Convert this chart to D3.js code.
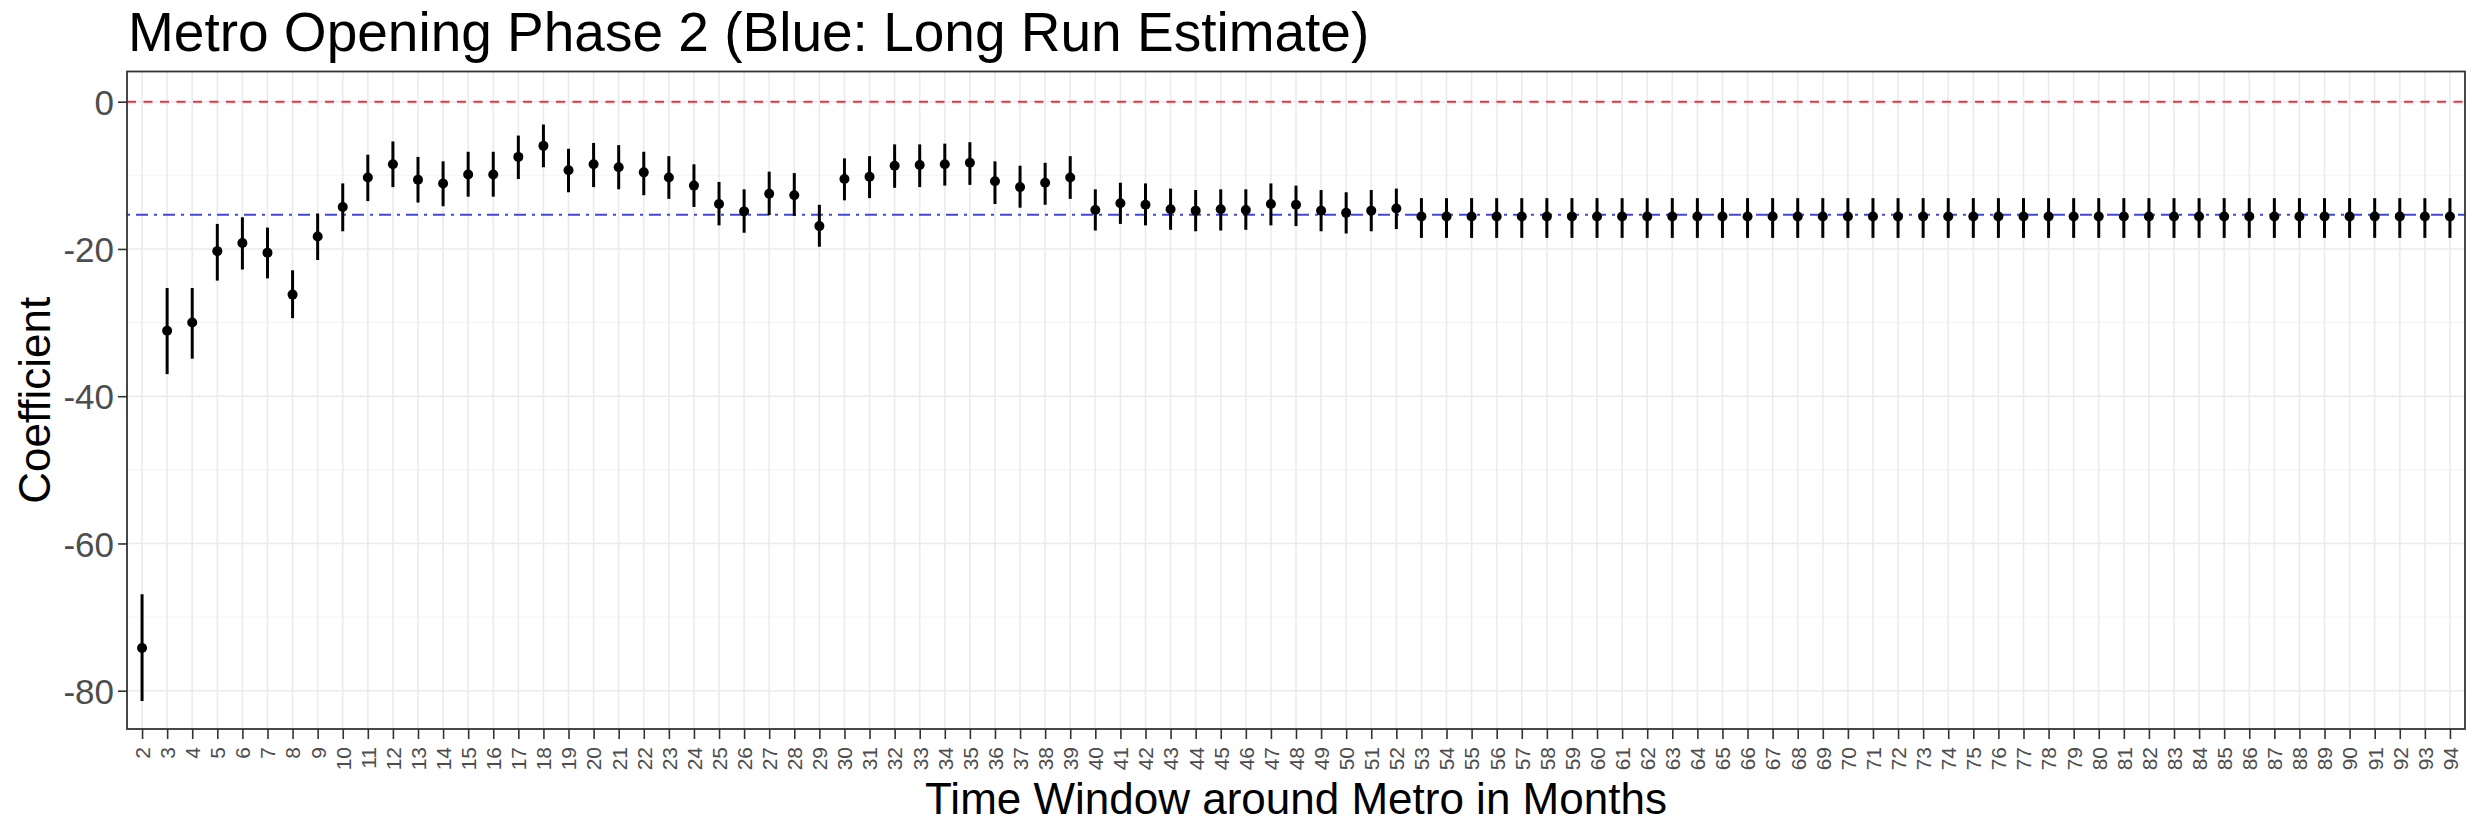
<!DOCTYPE html>
<html><head><meta charset="utf-8">
<script src="https://cdn.jsdelivr.net/npm/d3@7"></script>
<style>
body{margin:0;background:#fff}
svg{display:block}
text{font-family:"Liberation Sans",Arial,Helvetica,sans-serif}
</style>
</head><body>
<svg id="chart" width="2476" height="829"></svg>
<script>
// ---- data ----
const months = [2,3,4,5,6,7,8,9,10,11,12,13,14,15,16,17,18,19,20,21,22,23,24,25,26,27,28,29,30,31,32,33,34,35,36,37,38,39,40,41,42,43,44,45,46,47,48,49,50,51,52,53,54,55,56,57,58,59,60,61,62,63,64,65,66,67,68,69,70,71,72,73,74,75,76,77,78,79,80,81,82,83,84,85,86,87,88,89,90,91,92,93,94];
const coef = [-74.2,-31.1,-30.0,-20.3,-19.2,-20.5,-26.2,-18.3,-14.3,-10.3,-8.5,-10.6,-11.1,-9.9,-9.9,-7.5,-6.0,-9.3,-8.5,-8.9,-9.6,-10.3,-11.4,-13.9,-14.9,-12.5,-12.7,-16.9,-10.5,-10.2,-8.7,-8.6,-8.5,-8.3,-10.8,-11.6,-11.0,-10.3,-14.7,-13.8,-14.0,-14.6,-14.8,-14.6,-14.7,-13.9,-14.0,-14.8,-15.1,-14.8,-14.5,
  -15.6,-15.6,-15.6,-15.6,-15.6,-15.6,-15.6,-15.6,-15.6,-15.6,-15.6,-15.6,-15.6,-15.6,-15.6,-15.6,-15.6,-15.6,-15.6,-15.6,-15.6,-15.6,-15.6,-15.6,-15.6,-15.6,-15.6,-15.6,-15.6,-15.6,-15.6,-15.6,-15.6,-15.6,-15.6,-15.6,-15.6,-15.6,-15.6,-15.6,-15.6,-15.6];
const lower = [-81.4,-37.0,-34.9,-24.3,-22.8,-24.0,-29.4,-21.5,-17.6,-13.5,-11.6,-13.7,-14.2,-12.9,-12.9,-10.5,-8.9,-12.3,-11.6,-11.9,-12.7,-13.2,-14.3,-16.8,-17.8,-15.4,-15.5,-19.7,-13.4,-13.1,-11.7,-11.6,-11.4,-11.3,-13.9,-14.4,-14.0,-13.2,-17.5,-16.6,-16.8,-17.4,-17.6,-17.5,-17.4,-16.8,-16.9,-17.6,-17.9,-17.6,-17.3,
  -18.5,-18.5,-18.5,-18.5,-18.5,-18.5,-18.5,-18.5,-18.5,-18.5,-18.5,-18.5,-18.5,-18.5,-18.5,-18.5,-18.5,-18.5,-18.5,-18.5,-18.5,-18.5,-18.5,-18.5,-18.5,-18.5,-18.5,-18.5,-18.5,-18.5,-18.5,-18.5,-18.5,-18.5,-18.5,-18.5,-18.5,-18.5,-18.5,-18.5,-18.5,-18.5];
const upper = [-66.9,-25.3,-25.3,-16.6,-15.7,-17.1,-22.9,-15.2,-11.1,-7.2,-5.4,-7.5,-8.1,-6.8,-6.8,-4.6,-3.1,-6.4,-5.6,-5.9,-6.8,-7.4,-8.5,-10.9,-11.9,-9.5,-9.7,-14.0,-7.7,-7.4,-5.8,-5.8,-5.7,-5.5,-8.1,-8.7,-8.3,-7.4,-11.9,-11.0,-11.1,-11.8,-12.0,-11.9,-11.9,-11.1,-11.4,-12.0,-12.3,-12.0,-11.8,
  -13.1,-13.1,-13.1,-13.1,-13.1,-13.1,-13.1,-13.1,-13.1,-13.1,-13.1,-13.1,-13.1,-13.1,-13.1,-13.1,-13.1,-13.1,-13.1,-13.1,-13.1,-13.1,-13.1,-13.1,-13.1,-13.1,-13.1,-13.1,-13.1,-13.1,-13.1,-13.1,-13.1,-13.1,-13.1,-13.1,-13.1,-13.1,-13.1,-13.1,-13.1,-13.1];
const yTicks = [0,-20,-40,-60,-80];
const yMinorTicks = [-10,-30,-50,-70];
const zeroLine = 0;
const longRunEstimate = -15.35;
const titleText = "Metro Opening Phase 2 (Blue: Long Run Estimate)";
const xTitle = "Time Window around Metro in Months";
const yTitle = "Coefficient";

// ---- layout ----
const W = 2476, H = 829;
const L = 127, R = 2465, T = 71.5, B = 729;
const svg = d3.select("#chart");
svg.append("rect").attr("width", W).attr("height", H).attr("fill", "#fff");

const x = d3.scalePoint().domain(months).range([L, R]).padding(0.6);
const y = d3.scaleLinear().domain([-85.2, 4.1]).range([B, T]);

const data = months.map((m, i) => ({m, c: coef[i], lo: lower[i], hi: upper[i]}));

// grid
const grid = svg.append("g");
grid.selectAll("line.hmin").data(yMinorTicks).join("line")
  .attr("x1", L).attr("x2", R).attr("y1", d => y(d)).attr("y2", d => y(d))
  .attr("stroke", "#f2f2f2").attr("stroke-width", 0.9);
grid.selectAll("line.hmaj").data(yTicks).join("line")
  .attr("x1", L).attr("x2", R).attr("y1", d => y(d)).attr("y2", d => y(d))
  .attr("stroke", "#ebebeb").attr("stroke-width", 1.6);
grid.selectAll("line.v").data(months).join("line")
  .attr("x1", d => x(d)).attr("x2", d => x(d)).attr("y1", T).attr("y2", B)
  .attr("stroke", "#ebebeb").attr("stroke-width", 1.6);

// reference lines
svg.append("line")
  .attr("x1", L).attr("x2", R).attr("y1", y(zeroLine)).attr("y2", y(zeroLine))
  .attr("stroke", "#f0303c").attr("stroke-width", 2).attr("stroke-dasharray", "9,7.5");
svg.append("line")
  .attr("x1", L).attr("x2", R).attr("y1", y(longRunEstimate)).attr("y2", y(longRunEstimate))
  .attr("stroke", "#4646d6").attr("stroke-width", 2).attr("stroke-dasharray", "3,6,12,6");

// pointranges
const pr = svg.append("g");
pr.selectAll("line").data(data).join("line")
  .attr("x1", d => x(d.m)).attr("x2", d => x(d.m))
  .attr("y1", d => y(d.lo)).attr("y2", d => y(d.hi))
  .attr("stroke", "#000").attr("stroke-width", 3);
pr.selectAll("circle").data(data).join("circle")
  .attr("cx", d => x(d.m)).attr("cy", d => y(d.c)).attr("r", 5)
  .attr("fill", "#000");

// panel border
svg.append("rect").attr("x", L).attr("y", T).attr("width", R - L).attr("height", B - T)
  .attr("fill", "none").attr("stroke", "#333").attr("stroke-width", 1.8);

// y axis
const ya = svg.append("g").attr("transform", `translate(${L},0)`)
  .call(d3.axisLeft(y).tickValues(yTicks).tickSize(9).tickPadding(4).tickFormat(d => String(d)));
ya.select(".domain").remove();
ya.selectAll(".tick line").attr("stroke", "#333").attr("stroke-width", 1.6);
ya.selectAll(".tick text").attr("fill", "#4d4d4d").attr("font-size", 35).attr("dy", "0.36em");

// x axis
const xa = svg.append("g").attr("transform", `translate(0,${B})`)
  .call(d3.axisBottom(x).tickSize(10).tickPadding(0).tickFormat(d => String(d)));
xa.select(".domain").remove();
xa.selectAll(".tick line").attr("stroke", "#333").attr("stroke-width", 1.6);
xa.selectAll(".tick text")
  .attr("fill", "#4d4d4d").attr("font-size", 21)
  .attr("text-anchor", "end")
  .attr("y", 0).attr("x", 0).attr("dy", "0.35em")
  .attr("transform", "translate(0,18) rotate(-90)");

// titles
svg.append("text").attr("x", L + 1).attr("y", 51).attr("font-size", 55).attr("fill", "#000").text(titleText);
svg.append("text").attr("x", (L + R) / 2).attr("y", 814).attr("text-anchor", "middle")
  .attr("font-size", 44).attr("fill", "#000").text(xTitle);
svg.append("text").attr("transform", `translate(50,${(T + B) / 2}) rotate(-90)`)
  .attr("text-anchor", "middle").attr("font-size", 44).attr("fill", "#000").text(yTitle);
</script>
</body></html>
